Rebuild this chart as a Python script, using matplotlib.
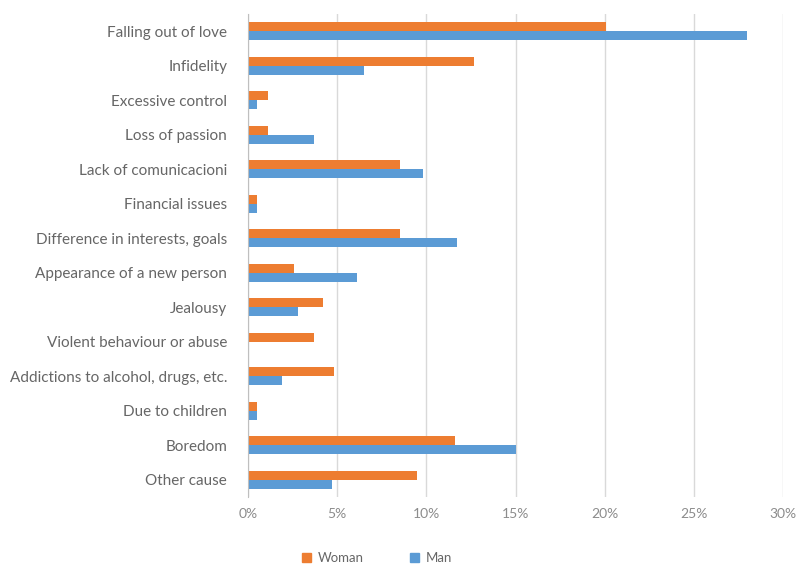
import matplotlib
matplotlib.use("Agg")
import matplotlib.pyplot as plt
from matplotlib.patches import Patch
from matplotlib.ticker import FuncFormatter
import numpy as np

categories = [
    "Falling out of love",
    "Infidelity",
    "Excessive control",
    "Loss of passion",
    "Lack of comunicacioni",
    "Financial issues",
    "Difference in interests, goals",
    "Appearance of a new person",
    "Jealousy",
    "Violent behaviour or abuse",
    "Addictions to alcohol, drugs, etc.",
    "Due to children",
    "Boredom",
    "Other cause",
]
woman = [20.1, 12.7, 1.1, 1.1, 8.5, 0.5, 8.5, 2.6, 4.2, 3.7, 4.8, 0.5, 11.6, 9.5]
man = [28.0, 6.5, 0.5, 3.7, 9.8, 0.5, 11.7, 6.1, 2.8, 0.0, 1.9, 0.5, 15.0, 4.7]
xticks = [0, 5, 10, 15, 20, 25, 30]

ORANGE = "#ED7D31"
BLUE = "#5B9BD5"
TEXT = "#666666"

plt.rcParams["font.family"] = ["Lato", "DejaVu Sans"]

fig = plt.figure(figsize=(7.99, 5.65), dpi=100)
ax = fig.add_axes([248 / 799, 1 - 497 / 565, (783 - 248) / 799, (497 - 14) / 565])

y = np.arange(len(categories))
h = 0.26
ax.barh(y - h / 2, woman, height=h, color=ORANGE, label="Woman", zorder=3)
ax.barh(y + h / 2, man, height=h, color=BLUE, label="Man", zorder=3)

ax.set_ylim(len(categories) - 0.5, -0.5)
ax.set_xlim(0, 30)
ax.set_yticks(y)
ax.set_yticklabels(categories, fontsize=11, color=TEXT)
ax.set_xticks(xticks)
ax.xaxis.set_major_formatter(FuncFormatter(lambda v, p: f"{v:.0f}%"))
ax.tick_params(axis="x", labelsize=10, colors="#8C8C8C", length=0, pad=8)
ax.tick_params(axis="y", length=0, pad=15)
ax.grid(axis="x", color="#D9D9D9", linewidth=1, zorder=0)
for s in ["top", "right", "bottom"]:
    ax.spines[s].set_visible(False)
ax.spines["left"].set_color("#BFBFBF")
ax.spines["left"].set_zorder(4)

handles = [Patch(color=ORANGE, label="Woman"), Patch(color=BLUE, label="Man")]
fig.legend(handles=handles, loc="lower left", bbox_to_anchor=(290 / 799, -0.02),
           ncol=2, frameon=False, fontsize=9.5, handlelength=0.7, handleheight=0.7,
           handletextpad=0.5, columnspacing=3.5, labelcolor=TEXT)

fig.savefig("out.png", dpi=100, facecolor="white")
